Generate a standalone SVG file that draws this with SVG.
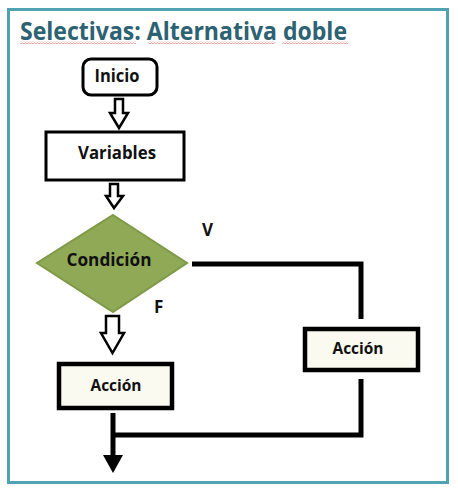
<svg xmlns="http://www.w3.org/2000/svg" width="458" height="492" viewBox="0 0 458 492">
<defs>
<style>
.t{font-family:"Open Sans","Noto Sans","Liberation Sans",sans-serif;font-weight:bold;fill:#111;}
.box{fill:#fff;stroke:#000;stroke-width:3;}
.act{fill:#fafaf0;stroke:#000;stroke-width:4.5;}
.hollow{fill:#fff;stroke:#000;stroke-width:2.5;stroke-linejoin:miter;}
.line{fill:none;stroke:#000;stroke-width:5;}
.sq{fill:none;stroke:#e06060;stroke-width:0.7;}
</style>
<pattern id="wave" width="3" height="3" patternUnits="userSpaceOnUse">
<path d="M0,2.2 L1.5,0.8 L3,2.2" class="sq"/>
</pattern>
</defs>
<rect width="458" height="492" fill="#fff"/>
<rect x="8.5" y="9.5" width="439" height="473" fill="#fff" stroke="#4fa3b3" stroke-width="3"/>
<g id="title">
<text x="20" y="40" class="t" style="fill:#2c6272" font-size="25" textLength="327" lengthAdjust="spacingAndGlyphs">Selectivas: Alternativa doble</text>
<rect x="20" y="41" width="116" height="3" fill="url(#wave)"/>
<rect x="148" y="41" width="127" height="3" fill="url(#wave)"/>
<rect x="282" y="41" width="66" height="3" fill="url(#wave)"/>
</g>
<g id="inicio">
<rect x="83" y="59" width="74" height="36" rx="8" class="box"/>
<text x="117" y="82" class="t" font-size="17" text-anchor="middle" textLength="45" lengthAdjust="spacingAndGlyphs">Inicio</text>
</g>
<g id="variables">
<rect x="46" y="132" width="138" height="48" class="box"/>
<text x="117" y="159" class="t" font-size="17" text-anchor="middle" textLength="78" lengthAdjust="spacingAndGlyphs">Variables</text>
</g>
<g id="condicion">
<polygon points="113,215 187,263 113,312 37,263" fill="#8fa957" stroke="#7e9a47" stroke-width="2"/>
<text x="109" y="266" class="t" font-size="17" text-anchor="middle" textLength="85" lengthAdjust="spacingAndGlyphs">Condición</text>
</g>
<g id="accion-der">
<rect x="305" y="329" width="113" height="41" class="act"/>
<text x="358" y="354" class="t" font-size="16" text-anchor="middle" textLength="51" lengthAdjust="spacingAndGlyphs">Acción</text>
</g>
<g id="accion-izq">
<rect x="59" y="364" width="113" height="44" class="act"/>
<text x="116" y="391" class="t" font-size="16" text-anchor="middle" textLength="51" lengthAdjust="spacingAndGlyphs">Acción</text>
</g>
<g id="labels">
<text x="202" y="236" class="t" font-size="17">V</text>
<text x="154" y="313" class="t" font-size="17">F</text>
</g>
<g id="connectors">
<polygon points="115,99 123,99 123,113 128,113 119,128 110,113 115,113" class="hollow"/>
<polygon points="110,184 118,184 118,196 123,196 114,208 106,196 110,196" class="hollow"/>
<polygon points="106,316 119,316 119,333 124,333 112.5,353 101,333 106,333" class="hollow"/>
<polyline points="192,264 361,264 361,319" class="line"/>
<polyline points="361,379 361,435 113,435" class="line"/>
<line x1="113" y1="413" x2="113" y2="458" class="line"/>
<polygon points="103,455 123,455 113,473" fill="#000"/>
</g>
</svg>
